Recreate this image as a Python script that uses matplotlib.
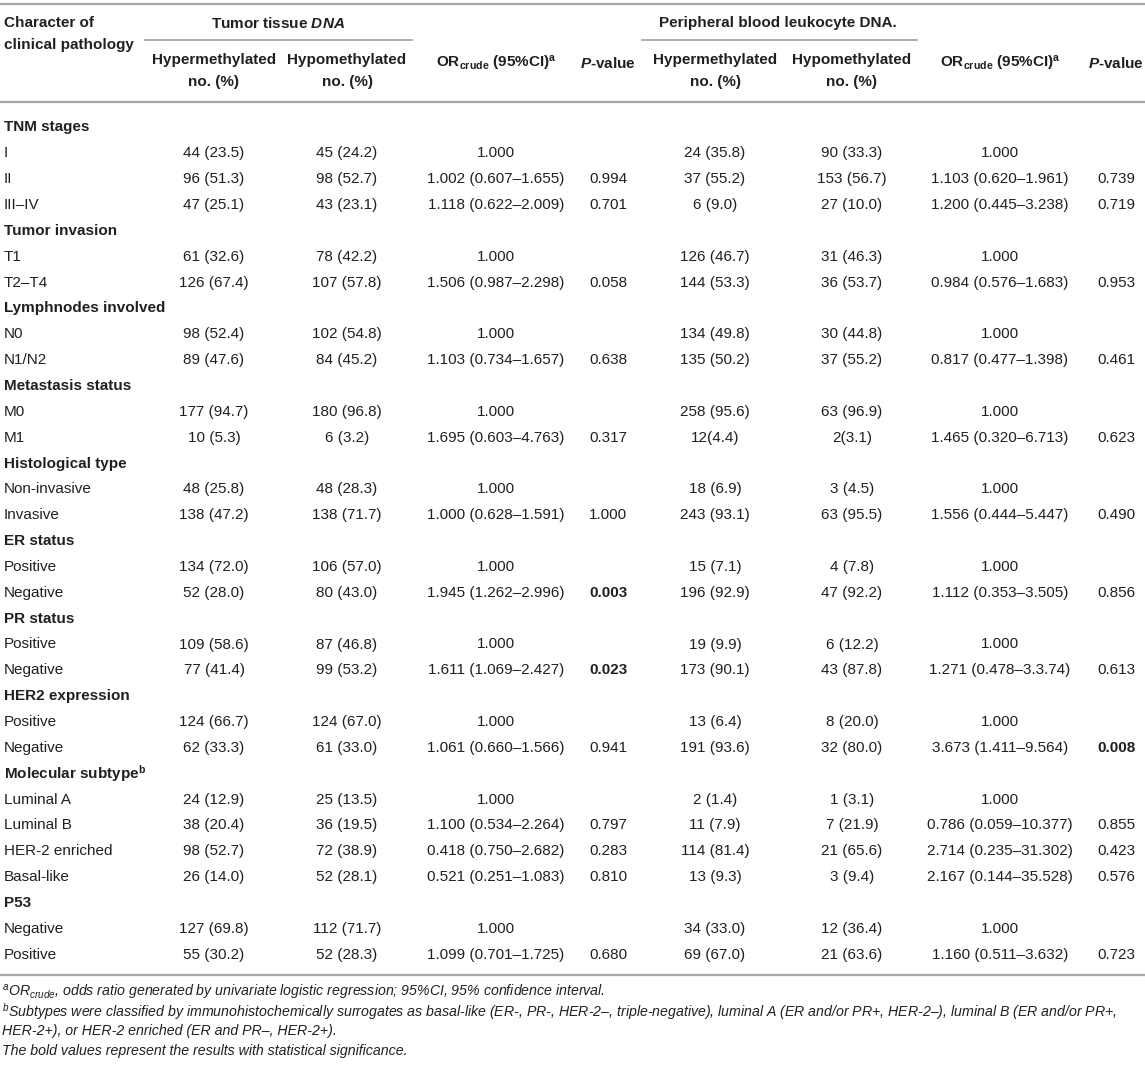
import matplotlib
matplotlib.use("Agg")
import matplotlib.pyplot as plt

plt.rcParams['font.family'] = ['Liberation Sans', 'DejaVu Sans']
plt.rcParams['mathtext.fontset'] = 'custom'
plt.rcParams['mathtext.rm'] = 'Liberation Sans'
plt.rcParams['mathtext.it'] = 'Liberation Sans:italic'
plt.rcParams['mathtext.bf'] = 'Liberation Sans:bold'
plt.rcParams['mathtext.bfit'] = 'Liberation Sans:italic:bold'

# table data
sections = ["TNM stages", "Tumor invasion", "Lymphnodes involved", "Metastasis status",
            "Histological type", "ER status", "PR status", "HER2 expression",
            r"Molecular subtype$^{\mathbf{b}}$", "P53"]
section_sizes = [3, 2, 2, 2, 2, 2, 2, 2, 4, 2]

labels = ["I", "II", "III–IV", "T1", "T2–T4", "N0", "N1/N2", "M0", "M1",
          "Non-invasive", "Invasive", "Positive", "Negative", "Positive", "Negative",
          "Positive", "Negative", "Luminal A", "Luminal B", "HER-2 enriched", "Basal-like",
          "Negative", "Positive"]

tumor_hyper = ["44 (23.5)", "96 (51.3)", "47 (25.1)", "61 (32.6)", "126 (67.4)", "98 (52.4)",
               "89 (47.6)", "177 (94.7)", "10 (5.3)", "48 (25.8)", "138 (47.2)", "134 (72.0)",
               "52 (28.0)", "109 (58.6)", "77 (41.4)", "124 (66.7)", "62 (33.3)", "24 (12.9)",
               "38 (20.4)", "98 (52.7)", "26 (14.0)", "127 (69.8)", "55 (30.2)"]
tumor_hypo = ["45 (24.2)", "98 (52.7)", "43 (23.1)", "78 (42.2)", "107 (57.8)", "102 (54.8)",
              "84 (45.2)", "180 (96.8)", "6 (3.2)", "48 (28.3)", "138 (71.7)", "106 (57.0)",
              "80 (43.0)", "87 (46.8)", "99 (53.2)", "124 (67.0)", "61 (33.0)", "25 (13.5)",
              "36 (19.5)", "72 (38.9)", "52 (28.1)", "112 (71.7)", "52 (28.3)"]
tumor_or = ["1.000", "1.002 (0.607–1.655)", "1.118 (0.622–2.009)", "1.000", "1.506 (0.987–2.298)",
            "1.000", "1.103 (0.734–1.657)", "1.000", "1.695 (0.603–4.763)", "1.000",
            "1.000 (0.628–1.591)", "1.000", "1.945 (1.262–2.996)", "1.000", "1.611 (1.069–2.427)",
            "1.000", "1.061 (0.660–1.566)", "1.000", "1.100 (0.534–2.264)", "0.418 (0.750–2.682)",
            "0.521 (0.251–1.083)", "1.000", "1.099 (0.701–1.725)"]
tumor_p = ["", "0.994", "0.701", "", "0.058", "", "0.638", "", "0.317", "", "1.000", "",
           "0.003", "", "0.023", "", "0.941", "", "0.797", "0.283", "0.810", "", "0.680"]

blood_hyper = ["24 (35.8)", "37 (55.2)", "6 (9.0)", "126 (46.7)", "144 (53.3)", "134 (49.8)",
               "135 (50.2)", "258 (95.6)", "12(4.4)", "18 (6.9)", "243 (93.1)", "15 (7.1)",
               "196 (92.9)", "19 (9.9)", "173 (90.1)", "13 (6.4)", "191 (93.6)", "2 (1.4)",
               "11 (7.9)", "114 (81.4)", "13 (9.3)", "34 (33.0)", "69 (67.0)"]
blood_hypo = ["90 (33.3)", "153 (56.7)", "27 (10.0)", "31 (46.3)", "36 (53.7)", "30 (44.8)",
              "37 (55.2)", "63 (96.9)", "2(3.1)", "3 (4.5)", "63 (95.5)", "4 (7.8)", "47 (92.2)",
              "6 (12.2)", "43 (87.8)", "8 (20.0)", "32 (80.0)", "1 (3.1)", "7 (21.9)", "21 (65.6)",
              "3 (9.4)", "12 (36.4)", "21 (63.6)"]
blood_or = ["1.000", "1.103 (0.620–1.961)", "1.200 (0.445–3.238)", "1.000", "0.984 (0.576–1.683)",
            "1.000", "0.817 (0.477–1.398)", "1.000", "1.465 (0.320–6.713)", "1.000",
            "1.556 (0.444–5.447)", "1.000", "1.112 (0.353–3.505)", "1.000", "1.271 (0.478–3.3.74)",
            "1.000", "3.673 (1.411–9.564)", "1.000", "0.786 (0.059–10.377)", "2.714 (0.235–31.302)",
            "2.167 (0.144–35.528)", "1.000", "1.160 (0.511–3.632)"]
blood_p = ["", "0.739", "0.719", "", "0.953", "", "0.461", "", "0.623", "", "0.490", "",
           "0.856", "", "0.613", "", "0.008", "", "0.855", "0.423", "0.576", "", "0.723"]

footnotes = [
    r"$^{a}$OR$_{crude}$, odds ratio generated by univariate logistic regression; 95%CI, 95% confidence interval.",
    r"$^{b}$Subtypes were classified by immunohistochemically surrogates as basal-like (ER-, PR-, HER-2–, triple-negative), luminal A (ER and/or PR+, HER-2–), luminal B (ER and/or PR+,",
    "HER-2+), or HER-2 enriched (ER and PR–, HER-2+).",
    "The bold values represent the results with statistical significance.",
]

# layout (pixels)
W, H = 1145, 1065
txt = '#231f20'
line_c = '#a6a6a6'
fs = 11
col_x = [214, 347, 496, 608, 715, 852, 1000, 1116]
y0, dy = 127.5, 25.85

fig = plt.figure(figsize=(W / 100, H / 100), dpi=100)
ax = fig.add_axes([0, 0, 1, 1])
ax.set_xlim(0, W)
ax.set_ylim(H, 0)
ax.axis('off')

# rules
ax.plot([0, W], [4, 4], color=line_c, lw=1.6)
ax.plot([145, 412], [40, 40], color=line_c, lw=1.3)
ax.plot([642, 917], [40, 40], color=line_c, lw=1.3)
ax.plot([0, W], [102, 102], color=line_c, lw=1.6)
ax.plot([0, W], [975, 975], color=line_c, lw=1.6)

# header
hd = dict(fontsize=fs, fontweight='bold', color=txt, va='center')
ax.text(4, 23, "Character of", ha='left', **hd)
ax.text(4, 45, "clinical pathology", ha='left', **hd)
ax.text(278, 23, r"Tumor tissue $\mathbfit{DNA}$", ha='center', **hd)
ax.text(778, 23, "Peripheral blood leukocyte DNA.", ha='center', **hd)
for k, cx in enumerate(col_x):
    kind = k % 4
    if kind < 2:
        word = "Hypermethylated" if kind == 0 else "Hypomethylated"
        ax.text(cx, 60, word, ha='center', **hd)
        ax.text(cx, 82, "no. (%)", ha='center', **hd)
    elif kind == 2:
        ax.text(cx, 63, r"OR$_{\mathbf{crude}}$ (95%CI)$^{\mathbf{a}}$", ha='center', **hd)
    else:
        ax.text(cx, 63, r"$\mathbfit{P}$-value", ha='center', **hd)

# body
columns = [tumor_hyper, tumor_hypo, tumor_or, tumor_p, blood_hyper, blood_hypo, blood_or, blood_p]
line = 0
r = 0
for name, n in zip(sections, section_sizes):
    ax.text(4, y0 + line * dy, name, ha='left', **hd)
    line += 1
    for _ in range(n):
        y = y0 + line * dy
        ax.text(4, y, labels[r], ha='left', va='center', fontsize=fs, color=txt)
        for k, col in enumerate(columns):
            val = col[r]
            if not val:
                continue
            bold = (k % 4 == 3) and float(val) < 0.05
            ax.text(col_x[k], y, val, ha='center', va='center', fontsize=fs, color=txt,
                    fontweight='bold' if bold else 'normal')
        r += 1
        line += 1

# footnotes
for i, note in enumerate(footnotes):
    ax.text(2, 992 + i * 19.5, note, ha='left', va='center', fontsize=10.2,
            style='italic', color=txt)

fig.savefig("out.png", dpi=100)
